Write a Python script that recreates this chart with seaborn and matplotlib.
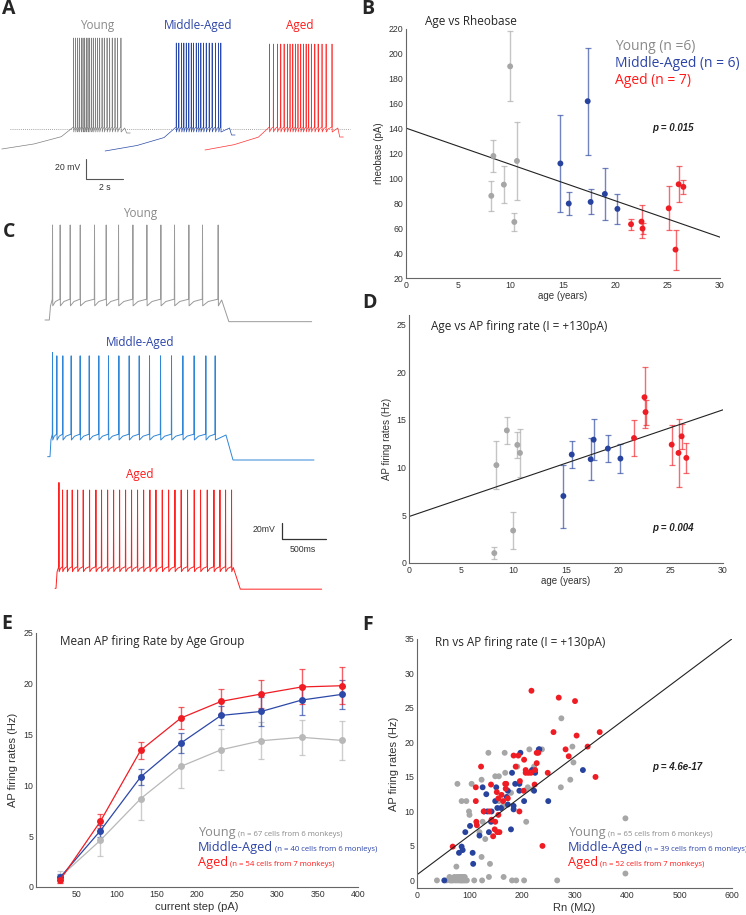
import matplotlib
matplotlib.use("Agg")
import numpy as np
import pandas as pd
import matplotlib.pyplot as plt
import seaborn as sns

sns.set_style("white")
plt.rcParams["font.family"] = ["Liberation Sans", "DejaVu Sans"]

# ---------------- data ----------------
groups = ["Young", "Middle-Aged", "Aged"]

# panel A: ramp-evoked spike times (s) for each example cell
a_spikes_young = [3.87, 3.98, 4.09, 4.18, 4.29, 4.38, 4.47, 4.56, 4.65, 4.74, 4.85, 4.95,
                  5.06, 5.17, 5.28, 5.41, 5.53, 5.68, 5.82, 5.96, 6.11, 6.25, 6.43]
a_spikes_mid = [3.84, 3.98, 4.13, 4.25, 4.38, 4.52, 4.65, 4.77, 4.92, 5.05, 5.17, 5.32,
                5.46, 5.62, 5.78, 5.96, 6.13, 6.25]
a_spikes_aged = [3.48, 3.69, 3.91, 4.09, 4.27, 4.45, 4.59, 4.74, 4.88, 5.02, 5.17, 5.31,
                 5.46, 5.60, 5.75, 5.93, 6.11, 6.32, 6.54, 6.86]
a_end = [6.94, 7.03, 7.48]          # trace length (s)
a_rest = [-72, -74, -73]            # start Vm (mV)
a_peak = [39, 34, 33]
a_endv = [-56, -58, -60]

# panel C: step-evoked spike times (ms)
c_spikes_young = [83, 170, 284, 398, 560, 693, 833, 996, 1155, 1314, 1469, 1632, 1787, 1965]
c_spikes_mid = [53, 102, 170, 265, 367, 470, 579, 689, 807, 924, 1038, 1155, 1280, 1405,
                1534, 1662, 1795, 1901]
c_spikes_aged = [42, 83, 136, 193, 254, 318, 390, 462, 526, 595, 663, 731, 799, 867, 935,
                 1004, 1075, 1144, 1216, 1288, 1360, 1431, 1503, 1579, 1651, 1727, 1803,
                 1871, 1935, 2003]
c_step_on = [49, 27, 11]
c_step_off = [2007, 2026, 2025]
c_end = [3030, 3026, 3029]
c_rest = [-70, -70, -70]
c_thr = [-45, -43, -44]
c_ahp = [-53, -50, -50]
c_peak = [44, 51, 48]
c_first_peak = [44, 55, 57]
c_after = [-72, -74, -71]

# panels B / D: per-animal values
age_young = [8.15, 8.35, 9.35, 9.95, 10.35, 10.6]
age_mid = [14.75, 15.55, 17.36, 17.64, 19.0, 20.2]
age_aged = [21.5, 22.5, 22.6, 25.1, 25.75, 26.05, 26.5]
rheo_young = [86, 118, 95, 190, 65, 114]
rheo_young_err = [12, 12.5, 15, 28, 7, 31]
rheo_mid = [112, 79.8, 162, 81.1, 87.5, 75.5]
rheo_mid_err = [39, 9, 43, 10, 21, 12]
rheo_aged = [63.2, 65.3, 59.7, 76, 42.8, 95.3, 93.2]
rheo_aged_err = [4.4, 13.5, 4.7, 17.7, 16, 14.3, 5.4]
fr_young_age = [1.04, 10.26, 13.9, 3.4, 12.38, 11.54]
fr_young_age_err = [0.6, 2.5, 1.4, 1.9, 1.35, 2.55]
fr_mid_age = [7.02, 11.37, 10.88, 12.93, 12.0, 10.95]
fr_mid_age_err = [3.3, 1.45, 2.2, 2.15, 1.4, 1.55]
fr_aged_age = [13.1, 17.38, 15.82, 12.41, 11.54, 13.28, 11.02]
fr_aged_age_err = [1.85, 3.2, 1.3, 2.1, 3.6, 1.3, 1.55]
rheo_fit = (140.4, -2.92)     # intercept, slope
rate_fit = (4.87, 0.373)

# panel E: mean firing rate vs current step
steps = [30, 80, 130, 180, 230, 280, 330, 380]
e_young = [1.0, 4.6, 8.69, 11.87, 13.51, 14.4, 14.73, 14.43]
e_young_err = [0.6, 1.5, 2.05, 2.1, 2.0, 1.85, 1.75, 1.95]
e_mid = [0.95, 5.54, 10.83, 14.17, 16.89, 17.28, 18.4, 18.96]
e_mid_err = [0.3, 0.6, 0.82, 0.95, 0.94, 1.45, 1.5, 1.44]
e_aged = [0.7, 6.46, 13.45, 16.63, 18.27, 19.0, 19.69, 19.81]
e_aged_err = [0.3, 0.7, 0.87, 1.07, 1.2, 1.4, 1.72, 1.8]

# panel F: per-cell input resistance vs firing rate
rn_young = [38, 56, 63, 68, 73, 77, 81, 84, 86, 89, 92, 95,
            76, 81, 85, 88,
            75, 77, 85, 94, 99, 100, 104, 109, 124, 123, 123, 125, 130, 136, 137, 139,
            149, 156, 156, 164, 165, 167, 168, 179, 181, 189, 191, 204, 208, 211, 214, 220,
            223, 238, 267, 274, 275, 292, 296, 298, 397, 397,
            62, 66, 71, 91, 82, 119, 209]
fr_young = [0, 0, 0, 0, 0, 0, 0, 0, 0, 0, 0, 0,
            0.5, 0.5, 0.5, 0.5,
            2.0, 14.0, 11.5, 11.5, 10.0, 9.5, 14.0, 0, 0, 3.4, 14.6, 8.5, 6.0, 18.5, 0.5, 2.4,
            15.1, 15.1, 11.5, 10.8, 0.5, 18.5, 15.6, 12.7, 0, 0, 16.5, 0, 8.5, 13.5, 19.0, 13.2,
            16.5, 19.0, 0, 13.5, 23.5, 14.6, 19.4, 17.1, 9.0, 1.0,
            0.5, 0, 0.5, 0.5, 0.5, 7.0, 13.2]
rn_mid = [52, 80, 85, 87, 92, 101, 106, 107, 119, 125, 132, 134, 137, 141, 142, 149, 151,
          153, 160, 171, 173, 179, 181, 184, 184, 187, 195, 195, 197, 204, 219, 223, 225,
          232, 233, 250, 316, 128, 173]
fr_mid = [0, 4.0, 4.9, 4.4, 7.0, 7.9, 4.0, 2.4, 6.5, 13.5, 12.5, 10.0, 7.0, 8.5, 10.0, 11.5,
          13.5, 10.5, 10.5, 12.1, 13.0, 7.4, 15.6, 10.3, 10.8, 14.0, 14.0, 13.0, 18.5, 11.5,
          16.0, 13.0, 15.6, 19.0, 19.0, 11.5, 16.0, 10.0, 11.0]
rn_aged = [68, 112, 112, 113, 114, 122, 127, 138, 141, 142, 145, 148, 149, 152, 155, 153,
           157, 155, 161, 164, 168, 170, 173, 184, 188, 193, 195, 196, 203, 204, 207, 207,
           212, 217, 218, 224, 225, 228, 228, 231, 239, 249, 260, 270, 283, 289, 301, 304,
           325, 340, 348, 169]
fr_aged = [4.9, 13.5, 11.5, 8.5, 8.0, 16.5, 10.0, 10.0, 13.9, 8.8, 6.4, 7.4, 8.5, 12.8, 11.9,
           7.0, 7.0, 9.5, 12.4, 11.5, 14.0, 14.0, 11.9, 18.1, 16.5, 18.1, 10.0, 14.4, 13.0,
           17.5, 16.0, 15.6, 15.6, 15.6, 27.5, 13.9, 16.0, 17.0, 18.5, 18.5, 5.0, 15.6, 21.5,
           26.5, 19.0, 18.0, 26.0, 21.0, 19.4, 15.0, 21.5, 13.3]
rn_fit = (0.82, 0.057)

# ---------------- style ----------------
GRAY, BLUE, RED = "#a6a6a6", "#27439e", "#f01c24"
TXT_GRAY, TXT_BLUE, TXT_RED = "#8a8a8a", "#2c44a8", "#ff1a1a"
pal = dict(zip(groups, [GRAY, BLUE, RED]))
TITLE_FONT = ["Open Sans", "DejaVu Sans"]

W, H = 746, 915
fig = plt.figure(figsize=(W / 100, H / 100), dpi=100)


def box(l, t, r, b):
    return fig.add_axes([l / W, 1 - b / H, (r - l) / W, (b - t) / H])


def style(ax):
    sns.despine(ax=ax)
    for s in ["left", "bottom"]:
        ax.spines[s].set_color("#666")
        ax.spines[s].set_linewidth(0.8)
    ax.tick_params(direction="in", length=3, width=0.6, colors="#666",
                   labelsize=6.3, labelcolor="#333", pad=2)


def trace(spk, t_on, t_off, t_end, v0, thr, ahp, pk, pk1, v_end, w, ramp):
    t, v = [0.0], [v0]
    if ramp:
        for ft, fv in [(0.45, 0.23), (0.83, 0.56)]:
            t.append(spk[0] * ft)
            v.append(v0 + fv * (thr - v0))
    else:
        t += [t_on, t_on + 0.4 * (spk[0] - t_on)]
        v += [v0, ahp]
    for i, s in enumerate(spk):
        t += [s, s + w, s + 2 * w]
        v += [thr, pk1 if i == 0 else pk, ahp]
        if i + 1 < len(spk):
            t.append(s + 2 * w + 0.35 * (spk[i + 1] - s))
            v.append(ahp + 0.65 * (thr - ahp))
    t += [t_off, t_off + (t_end - t_off) * (0.35 if ramp else 0.08), t_end]
    v += [thr - 1, v_end, v_end]
    return np.array(t), np.array(v)


def draw_trace(ax, t, v, dx, dy, color, lw):
    sns.lineplot(x=t + dx, y=v + dy, ax=ax, color=color, lw=lw, sort=False,
                 estimator=None)


def letter(ch, x, y):
    fig.text(x / W, 1 - y / H, ch, fontsize=14, fontweight="bold", family=TITLE_FONT,
             ha="center", va="center")


# ---------------- panel A ----------------
axA = box(0, 0, 360, 200)
axA.set_axis_off()
axA.set_xlim(0, 19.46)
axA.set_ylim(-123, 77)
a_cols = ["#808080", "#2b4aa8", "#ff3030"]
a_dx = [0.1, 5.68, 11.08]
for k, spk in enumerate([a_spikes_young, a_spikes_mid, a_spikes_aged]):
    t, v = trace(spk, 0, a_end[k] - 0.3, a_end[k], a_rest[k], -50, -55, a_peak[k],
                 a_peak[k], a_endv[k], 0.008, True)
    draw_trace(axA, t, v, a_dx[k], 0, a_cols[k], 0.5)
axA.plot([0.54, 18.9], [-52, -52], ls=(0, (1, 1.5)), color="#888", lw=0.6)
for name, x, c in zip(groups, [5.24, 10.7, 16.2], [TXT_GRAY, TXT_BLUE, TXT_RED]):
    axA.text(x, 51, name, color=c, fontsize=8.5, ha="center", va="center",
             family=TITLE_FONT)
axA.plot([4.63, 4.63, 6.63], [-82, -102, -102], color="#555", lw=0.8)
axA.text(4.32, -91, "20 mV", fontsize=6.3, ha="right", va="center", color="#333")
axA.text(5.68, -111, "2 s", fontsize=6.3, ha="center", va="center", color="#333")

# ---------------- panel C ----------------
axC = box(40, 200, 330, 600)
axC.set_axis_off()
axC.set_xlim(-56.8, 3238)
axC.set_ylim(-480, 0)
c_cols = ["#9a9a9a", "#2f86d6", "#ff2020"]
c_dx = [0, 30, 114]
c_dy = [-74, -238, -396]
for k, spk in enumerate([c_spikes_young, c_spikes_mid, c_spikes_aged]):
    t, v = trace(spk, c_step_on[k], c_step_off[k], c_end[k], c_rest[k], c_thr[k],
                 c_ahp[k], c_peak[k], c_first_peak[k], c_after[k], 2.5, False)
    draw_trace(axC, t, v, c_dx[k], c_dy[k], c_cols[k], 0.7)
for name, y, c in zip(groups, [-16, -171, -329], [TXT_GRAY, TXT_BLUE, TXT_RED]):
    axC.text(1079, y, name, color=c, fontsize=8.5, ha="center", va="center",
             family=TITLE_FONT)
axC.plot([2689, 2689, 3192], [-387, -407, -407], color="#333", lw=0.9)
axC.text(2613, -396, "20mV", fontsize=6.3, ha="right", va="center", color="#333")
axC.text(2934, -419, "500ms", fontsize=6.3, ha="center", va="center", color="#333")


# ---------------- panels B & D ----------------
def age_panel(ax, vals, errs, fit, ylim, yticks, ylabel, title, tpos, ptxt, ppos):
    ages = [age_young, age_mid, age_aged]
    for g, a, y, e in zip(groups, ages, vals, errs):
        ax.errorbar(a, y, yerr=e, fmt="none", ecolor=pal[g], alpha=0.65, elinewidth=1.0,
                    capsize=2.5, capthick=0.9)
    df = pd.DataFrame({"age": sum(ages, []), "val": sum(vals, []),
                       "group": sum([[g] * len(a) for g, a in zip(groups, ages)], [])})
    sns.scatterplot(data=df, x="age", y="val", hue="group", palette=pal, s=18,
                    edgecolor="none", legend=False, ax=ax, zorder=3)
    xs = np.array([0, 30])
    sns.lineplot(x=xs, y=fit[0] + fit[1] * xs, color="#222", lw=0.8, ax=ax)
    ax.set_xlim(0, 30)
    ax.set_ylim(*ylim)
    ax.set_xticks(range(0, 31, 5))
    ax.set_yticks(yticks)
    style(ax)
    ax.set_xlabel("age (years)", fontsize=7, labelpad=1, color="#333")
    ax.set_ylabel(ylabel, fontsize=7, labelpad=3, color="#333")
    ax.text(tpos[0], tpos[1], title, transform=ax.transAxes, fontsize=8.5,
            family=TITLE_FONT, va="center")
    ax.text(ppos[0], ppos[1], ptxt, transform=ax.transAxes, fontsize=7, style="italic",
            fontweight="bold", ha="center", va="center", color="#222")


axB = box(406, 29, 720, 278)
age_panel(axB, [rheo_young, rheo_mid, rheo_aged],
          [rheo_young_err, rheo_mid_err, rheo_aged_err], rheo_fit, (20, 220),
          range(20, 221, 20), "rheobase (pA)", "Age vs Rheobase", (0.06, 1.032),
          "p = 0.015", (0.85, 0.602))
for lab, y, c in zip(["Young (n =6)", "Middle-Aged (n = 6)", "Aged (n = 7)"],
                     [0.928, 0.863, 0.795], [TXT_GRAY, TXT_BLUE, TXT_RED]):
    axB.text(0.666, y, lab, color=c, fontsize=10, transform=axB.transAxes, va="center",
             family=TITLE_FONT)

axD = box(409, 315, 723, 563)
age_panel(axD, [fr_young_age, fr_mid_age, fr_aged_age],
          [fr_young_age_err, fr_mid_age_err, fr_aged_age_err], rate_fit, (0, 26),
          range(0, 26, 5), "AP firing rates (Hz)", "Age vs AP firing rate (I = +130pA)",
          (0.07, 0.952), "p = 0.004", (0.841, 0.141))


def legend_lines(ax, x, ys, smalls, fs_big=9.2, fs_small=5.6):
    for g, y, small, c in zip(groups, ys, smalls, [TXT_GRAY, TXT_BLUE, TXT_RED]):
        t = ax.text(x, y, g, color=c, fontsize=fs_big, transform=ax.transAxes,
                    va="center", family=TITLE_FONT)
        ax.annotate(" " + small, xy=(1, 0.08), xycoords=t, va="bottom", ha="left",
                    fontsize=fs_small, color=c, family=TITLE_FONT)


# ---------------- panel E ----------------
axE = box(36, 633, 358, 887)
e_vals = [e_young, e_mid, e_aged]
e_errs = [e_young_err, e_mid_err, e_aged_err]
e_line = {"Young": "#b8b8b8", "Middle-Aged": "#2c48a8", "Aged": "#f01c24"}
for g, y, e in zip(groups, e_vals, e_errs):
    axE.errorbar(steps, y, yerr=e, fmt="none", ecolor=e_line[g], alpha=0.7,
                 elinewidth=1.0, capsize=2.5, capthick=0.9)
dfE = pd.DataFrame({"step": steps * 3, "rate": sum(e_vals, []),
                    "group": sum([[g] * len(steps) for g in groups], [])})
sns.lineplot(data=dfE, x="step", y="rate", hue="group", palette=e_line, marker="o",
             markersize=5, markeredgecolor="none", lw=0.9, legend=False, ax=axE,
             estimator=None)
axE.set_xlim(0, 400)
axE.set_ylim(0, 25)
axE.set_xticks(range(50, 401, 50))
axE.set_yticks(range(0, 26, 5))
style(axE)
axE.set_xlabel("current step (pA)", fontsize=8, labelpad=2, color="#333")
axE.set_ylabel("AP firing rates (Hz)", fontsize=8, labelpad=4, color="#333")
axE.text(0.075, 0.965, "Mean AP firing Rate by Age Group", transform=axE.transAxes,
         fontsize=8.5, family=TITLE_FONT, va="center")
legend_lines(axE, 0.503, [0.213, 0.154, 0.096],
             ["(n = 67 cells from 6 monkeys)", "(n = 40 cells from 6 monleys)",
              "(n = 54 cells from 7 monkeys)"])

# ---------------- panel F ----------------
axF = box(417, 639, 732, 888)
dfF = pd.DataFrame({"rn": rn_young + rn_mid + rn_aged,
                    "fr": fr_young + fr_mid + fr_aged,
                    "group": ["Young"] * len(rn_young) + ["Middle-Aged"] * len(rn_mid)
                    + ["Aged"] * len(rn_aged)})
sns.scatterplot(data=dfF, x="rn", y="fr", hue="group", palette=pal, s=18,
                edgecolor="none", legend=False, ax=axF)
xs = np.array([0, 600])
sns.lineplot(x=xs, y=rn_fit[0] + rn_fit[1] * xs, color="#222", lw=0.8, ax=axF)
axF.set_xlim(0, 600)
axF.set_ylim(-1.1, 35)
axF.set_xticks(range(0, 601, 100))
axF.set_yticks(range(0, 36, 5))
style(axF)
axF.set_xlabel("Rn (M\u03a9)", fontsize=8, labelpad=2, color="#333")
axF.set_ylabel("AP firing rates (Hz)", fontsize=8, labelpad=4, color="#333")
axF.text(0.057, 0.984, "Rn vs AP firing rate (I = +130pA)", transform=axF.transAxes,
         fontsize=8.5, family=TITLE_FONT, va="center")
axF.text(0.825, 0.486, "p = 4.6e-17", transform=axF.transAxes, fontsize=7,
         style="italic", fontweight="bold", ha="center", va="center", color="#222")
legend_lines(axF, 0.479, [0.221, 0.161, 0.104],
             ["(n = 65 cells from 6 monkeys)", "(n = 39 cells from 6 monleys)",
              "(n = 52 cells from 7 monkeys)"])

for ch, x, y in [("A", 9, 9), ("B", 368, 9), ("C", 9, 232), ("D", 370, 303),
                 ("E", 7, 624), ("F", 368, 625)]:
    letter(ch, x, y)

fig.savefig("out.png", dpi=100)
